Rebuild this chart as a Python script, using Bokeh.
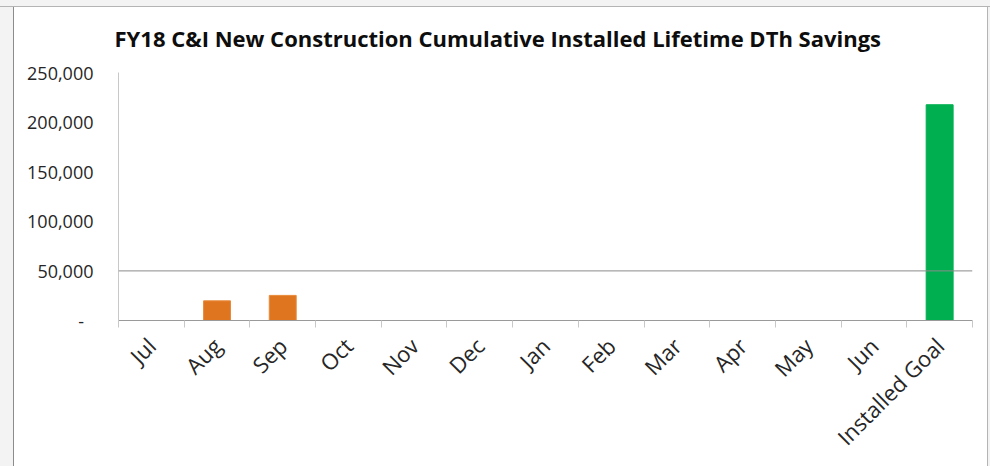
import math
from bokeh.plotting import figure
from bokeh.models import (FixedTicker, NumeralTickFormatter, Span, Range1d,
                          GlobalInlineStyleSheet)
from bokeh.embed import file_html
from bokeh.resources import INLINE

# ---- data ----
categories = ["Jul", "Aug", "Sep", "Oct", "Nov", "Dec", "Jan", "Feb", "Mar",
              "Apr", "May", "Jun", "Installed Goal"]
monthly_savings = [0, 19800, 25300, 0, 0, 0, 0, 0, 0, 0, 0, 0, 0]
goal_values = [0, 0, 0, 0, 0, 0, 0, 0, 0, 0, 0, 0, 217500]
y_ticks = [0, 50000, 100000, 150000, 200000, 250000]
reference_level = 50000
title_text = "FY18 C&I New Construction Cumulative Installed Lifetime DTh Savings"

xs = list(range(len(categories)))

W, H = 990, 466
p = figure(width=W, height=H, output_backend="svg", toolbar_location=None,
           x_range=Range1d(-0.5, len(categories) - 0.5),
           y_range=Range1d(0, 250000),
           min_border_left=118, min_border_right=18,
           min_border_top=72, min_border_bottom=146)

# page: light gray surround with a white bordered panel behind the chart
page_css = """
html {
  background:
    linear-gradient(to bottom, #f3f3f3 0px, #f3f3f3 6px, #b4b4b4 6px, #b4b4b4 7px,
                    rgba(243,243,243,0) 7px) no-repeat,
    linear-gradient(to right, #f3f3f3 0px, #f3f3f3 13px, #8c8c8c 13px, #8c8c8c 14px,
                    #ffffff 14px, #ffffff 987px, #b4b4b4 987px, #b4b4b4 988px,
                    #f3f3f3 988px) repeat;
}
body { background: transparent; }
"""
p.stylesheets = [GlobalInlineStyleSheet(css=page_css)]

p.background_fill_color = "white"
p.border_fill_color = None
p.outline_line_color = None
p.xgrid.grid_line_color = None
p.ygrid.grid_line_color = None

# title
p.title.text = title_text
p.title.text_font = "Open Sans"
p.title.text_font_style = "bold"
p.title.text_font_size = "22px"
p.title.text_color = "#0d0d0d"
p.title.align = "left"
p.title.offset = -4
p.title.standoff = 40

# bars
p.vbar(x=xs, top=monthly_savings, width=0.41, bottom=0,
       fill_color="#E0751F", line_color="#E88A3A", line_width=1)
p.vbar(x=xs, top=goal_values, width=0.41, bottom=0,
       fill_color="#00B050", line_color="#00B050", line_width=1)

# 50,000 reference line
p.add_layout(Span(location=reference_level, dimension="width",
                  line_color="#8a8a8a", line_width=1))

# y axis
yax = p.yaxis[0]
yax.ticker = FixedTicker(ticks=y_ticks)
yax.formatter = NumeralTickFormatter(format="0,0")
yax.major_label_overrides = {0: "-\u00a0\u00a0"}
yax.major_tick_out = 0
yax.major_tick_in = 0
yax.minor_tick_out = 0
yax.minor_tick_in = 0
yax.axis_line_color = "#c8c8c8"
yax.major_label_standoff = 25
yax.major_label_text_font = "Open Sans"
yax.major_label_text_font_size = "18px"
yax.major_label_text_color = "#262626"

# x axis: labels at category centers, ticks at boundaries
xax = p.xaxis[0]
xax.ticker = FixedTicker(ticks=xs, minor_ticks=[i - 0.5 for i in range(len(categories) + 1)])
xax.major_label_overrides = {i: c for i, c in zip(xs, categories)}
xax.major_tick_out = 0
xax.major_tick_in = 0
xax.minor_tick_out = 7
xax.minor_tick_in = 0
xax.minor_tick_line_color = "#c8c8c8"
xax.axis_line_color = "#9a9a9a"
xax.major_label_orientation = math.pi / 4
xax.major_label_standoff = 14
xax.major_label_text_font = "Open Sans"
xax.major_label_text_font_size = "22px"
xax.major_label_text_color = "#262626"

open("out.html", "w").write(file_html(p, INLINE))
